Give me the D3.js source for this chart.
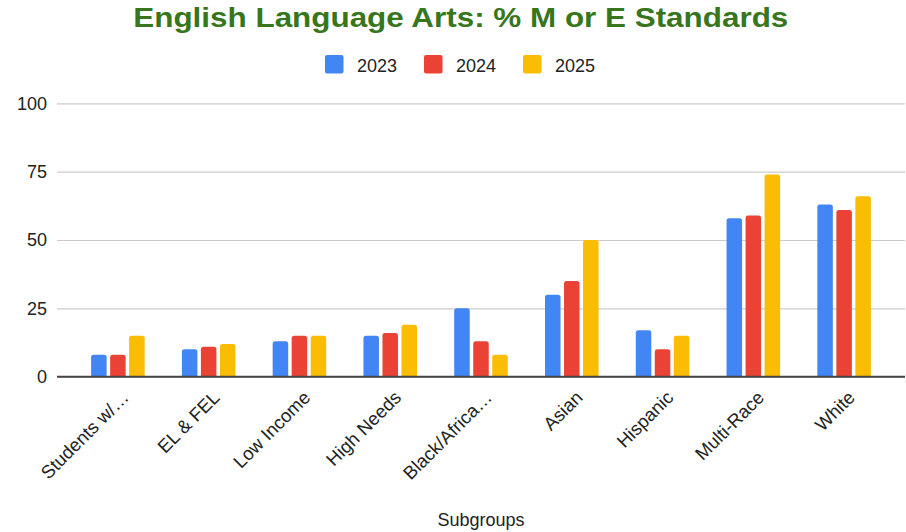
<!DOCTYPE html>
<html>
<head>
<meta charset="utf-8">
<script src="https://cdn.jsdelivr.net/npm/d3@7"></script>
<style>
  body { margin: 0; background: #fff; }
  text { font-family: "Liberation Sans", Arial, sans-serif; }
</style>
</head>
<body>
<div id="canvas"></div>
<script>
// datos
var subgroups = ['Students w/…', 'EL & FEL', 'Low Income', 'High Needs', 'Black/Africa…', 'Asian', 'Hispanic', 'Multi-Race', 'White'];
var years = ['2023', '2024', '2025'];
var values2023 = [8, 10, 13, 15, 25, 30, 17, 58, 63];
var values2024 = [8, 11, 15, 16, 13, 35, 10, 59, 61];
var values2025 = [15, 12, 15, 19, 8, 50, 15, 74, 66];
var y_ticks = [0, 25, 50, 75, 100];
var colors = ['#4285f4', '#ea4335', '#fbbc04'];

var series = [values2023, values2024, values2025];

/* ------------- d3 definitions ---------- */
var width = 906,
	height = 532;

var grid_left = 57,
	grid_right = 905;

var x0_scale = d3.scaleBand()
	.domain(subgroups)
	.range([72.5, 889.5])
	.paddingInner(0.41)
	.paddingOuter(0.205);

var x1_scale = d3.scaleBand()
	.domain(years)
	.range([0, x0_scale.bandwidth()])
	.paddingInner(0.184);

var y_scale = d3.scaleLinear()
	.domain([0, 100])
	.range([376.7, 103.3]);

var color_scale = d3.scaleOrdinal()
	.domain(years)
	.range(colors);

// barra con esquinas de arriba redondeadas
function barPath(x, y, w, h, r) {
	r = Math.min(r, h, w / 2);
	return 'M' + x + ',' + (y + h) +
		'V' + (y + r) +
		'Q' + x + ',' + y + ' ' + (x + r) + ',' + y +
		'H' + (x + w - r) +
		'Q' + (x + w) + ',' + y + ' ' + (x + w) + ',' + (y + r) +
		'V' + (y + h) + 'Z';
}

var canvas = d3.select('#canvas')
	.append('svg')
	.attr('width', width)
	.attr('height', height);

// titulo (el original es un poco mas ancho que Arial)
canvas.append('text')
	.attr('x', 460.8)
	.attr('y', 27)
	.attr('text-anchor', 'middle')
	.attr('font-size', 28)
	.attr('font-weight', 'bold')
	.attr('fill', '#38761d')
	.attr('textLength', 655)
	.attr('lengthAdjust', 'spacingAndGlyphs')
	.text('English Language Arts: % M or E Standards');

// leyenda
var legend = canvas.selectAll('.legend')
	.data(years)
	.enter()
	.append('g')
		.attr('class', 'legend')
		.attr('transform', function(d, i) { return 'translate(' + (325 + i * 99) + ', 55)'; });

legend.append('rect')
	.attr('width', 18.5)
	.attr('height', 18.5)
	.attr('rx', 2)
	.attr('fill', function(d) { return color_scale(d); });

legend.append('text')
	.attr('x', 32)
	.attr('y', 16.5)
	.attr('font-size', 18)
	.attr('fill', '#222')
	.text(function(d) { return d; });

// eje y con lineas de grilla
var y_axis = d3.axisLeft(y_scale)
	.tickValues(y_ticks)
	.tickSize(-(grid_right - grid_left))
	.tickPadding(10);

var y_g = canvas.append('g')
	.attr('transform', 'translate(' + grid_left + ', 0)')
	.call(y_axis);

y_g.select('.domain').remove();
y_g.selectAll('.tick line')
	.attr('stroke', '#cccccc')
	.attr('stroke-width', 1.2);
y_g.selectAll('.tick text')
	.attr('font-size', 18)
	.attr('font-family', '"Liberation Sans", Arial, sans-serif')
	.attr('fill', '#222');

// barras
var groups = canvas.selectAll('.group')
	.data(subgroups)
	.enter()
	.append('g')
		.attr('class', 'group')
		.attr('transform', function(d) { return 'translate(' + x0_scale(d) + ', 0)'; });

groups.selectAll('path')
	.data(function(d, i) {
		return years.map(function(yr, j) { return {year: yr, value: series[j][i]}; });
	})
	.enter()
	.append('path')
		.attr('fill', function(d) { return color_scale(d.year); })
		.attr('d', function(d) {
			return barPath(x1_scale(d.year), y_scale(d.value), x1_scale.bandwidth(), y_scale(0) - y_scale(d.value), 2.5);
		});

// linea base
canvas.append('line')
	.attr('x1', grid_left)
	.attr('x2', grid_right)
	.attr('y1', y_scale(0))
	.attr('y2', y_scale(0))
	.attr('stroke', '#444')
	.attr('stroke-width', 2);

// etiquetas del eje x
var x_axis = d3.axisBottom(x0_scale)
	.tickSize(0)
	.tickPadding(0);

var x_g = canvas.append('g')
	.attr('transform', 'translate(0, ' + y_scale(0) + ')')
	.call(x_axis);

x_g.select('.domain').remove();
x_g.selectAll('.tick text')
	.attr('font-size', 18.5)
	.attr('font-family', '"Liberation Sans", Arial, sans-serif')
	.attr('fill', '#222')
	.attr('text-anchor', 'end')
	.attr('dy', null)
	.attr('y', 0)
	.attr('transform', 'translate(12, 22) rotate(-45)');

canvas.append('text')
	.attr('x', (grid_left + grid_right) / 2)
	.attr('y', 526)
	.attr('text-anchor', 'middle')
	.attr('font-size', 18)
	.attr('fill', '#222')
	.text('Subgroups');
</script>
</body>
</html>
